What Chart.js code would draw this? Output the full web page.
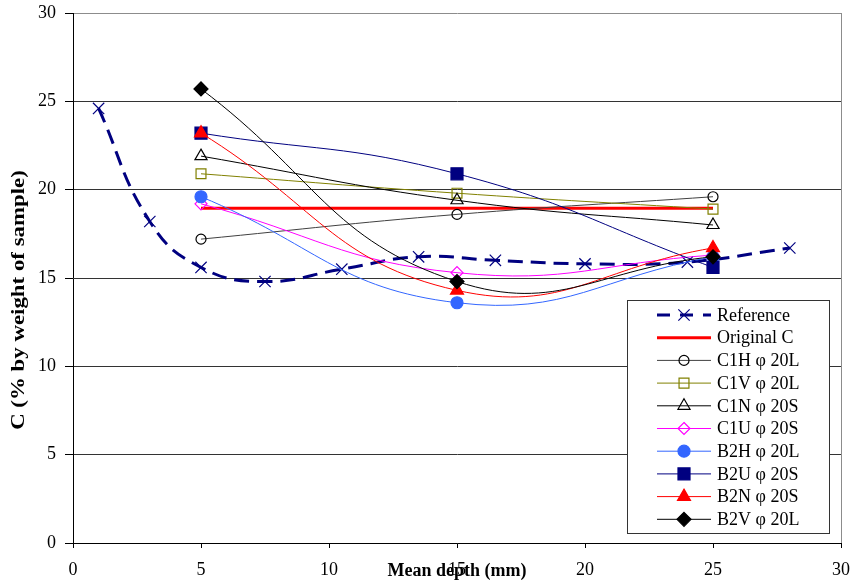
<!DOCTYPE html>
<html>
<head>
<meta charset="utf-8">
<script src="https://cdn.jsdelivr.net/npm/chart.js@4.4.1/dist/chart.umd.min.js"></script>
<style>
  html, body { margin: 0; padding: 0; background: #ffffff; }
  canvas { display: block; }
</style>
</head>
<body>
<canvas id="chart" width="854" height="584"></canvas>
<script>
// Carbon content against mean depth
const refDepth = [1, 3, 5, 7.5, 10.5, 13.5, 16.5, 20, 24, 28];
const refC     = [24.6, 18.2, 15.6, 14.8, 15.5, 16.2, 16.0, 15.8, 15.9, 16.7];

const sampleDepth = [5, 15, 25];
const originalC = [18.95, 18.95, 18.95];
const c1h = [17.2, 18.6, 19.6];
const c1v = [20.9, 19.8, 18.9];
const c1n = [21.9, 19.4, 18.0];
const c1u = [19.2, 15.3, 16.3];
const b2h = [19.6, 13.6, 16.2];
const b2u = [23.2, 20.9, 15.6];
const b2n = [23.2, 14.3, 16.7];
const b2v = [25.7, 14.8, 16.2];

const seriesNames = ['Reference', 'Original C', 'C1H φ 20L', 'C1V φ 20L', 'C1N φ 20S',
                     'C1U φ 20S', 'B2H φ 20L', 'B2U φ 20S', 'B2N φ 20S', 'B2V φ 20L'];

const xTicks = [0, 5, 10, 15, 20, 25, 30];
const yTicks = [0, 5, 10, 15, 20, 25, 30];
const xTitle = 'Mean depth (mm)';
const yTitle = 'C (% by weight of sample)';

const FONT = '"Liberation Serif", "Times New Roman", Times, serif';
Chart.defaults.font.family = FONT;
Chart.defaults.font.size = 18;
Chart.defaults.color = '#000000';

function pts(xs, ys) { return xs.map((x, i) => ({ x: x, y: ys[i] })); }

const NONE = 'rgba(0,0,0,0)';
// line colour, width, dash, marker style, radius, marker fill, marker edge
const styles = [
  { line: '#000080', w: 3, dash: [15, 8], ps: 'crossRot', r: 8,   fill: NONE,      edge: '#000080', t: 0.45 },
  { line: '#ff0000', w: 3, dash: [],      ps: false,      r: 0,   fill: NONE,      edge: '#ff0000', t: 0 },
  { line: '#404040', w: 1, dash: [],      ps: 'circle',   r: 5,   fill: NONE,      edge: '#000000', t: 0.45 },
  { line: '#808000', w: 1, dash: [],      ps: 'rect',     r: 7,   fill: NONE,      edge: '#808000', t: 0.45 },
  { line: '#000000', w: 1, dash: [],      ps: 'triangle', r: 7,   fill: NONE,      edge: '#000000', t: 0.45 },
  { line: '#ff00ff', w: 1, dash: [],      ps: 'rectRot',  r: 6,   fill: NONE,      edge: '#ff00ff', t: 0.45 },
  { line: '#3366ff', w: 1, dash: [],      ps: 'circle',   r: 6,   fill: '#3366ff', edge: '#3366ff', t: 0.45 },
  { line: '#000080', w: 1, dash: [],      ps: 'rect',     r: 8.5, fill: '#000080', edge: '#000080', t: 0.45 },
  { line: '#ff0000', w: 1, dash: [],      ps: 'triangle', r: 7.5, fill: '#ff0000', edge: '#ff0000', t: 0.45 },
  { line: '#000000', w: 1, dash: [],      ps: 'rectRot',  r: 7,   fill: '#000000', edge: '#000000', t: 0.45 }
];

const seriesData = [
  pts(refDepth, refC),
  pts(sampleDepth, originalC),
  pts(sampleDepth, c1h),
  pts(sampleDepth, c1v),
  pts(sampleDepth, c1n),
  pts(sampleDepth, c1u),
  pts(sampleDepth, b2h),
  pts(sampleDepth, b2u),
  pts(sampleDepth, b2n),
  pts(sampleDepth, b2v)
];

const datasets = seriesData.map((d, i) => {
  const s = styles[i];
  return {
    label: seriesNames[i],
    data: d,
    order: seriesData.length - i,
    borderColor: s.line,
    borderWidth: s.w,
    borderDash: s.dash,
    tension: s.t,
    fill: false,
    pointStyle: s.ps,
    pointRadius: s.r,
    pointHoverRadius: s.r,
    pointBackgroundColor: s.fill,
    pointBorderColor: s.edge,
    pointBorderWidth: 1.2
  };
});

// marker geometry following Chart.js point styles
function drawMarker(ctx, s, x, y) {
  if (!s.ps || !s.r) return;
  const r = s.r;
  ctx.save();
  ctx.setLineDash([]);
  ctx.lineWidth = 1.2;
  ctx.strokeStyle = s.edge;
  ctx.fillStyle = s.fill;
  ctx.beginPath();
  if (s.ps === 'circle') {
    ctx.arc(x, y, r, 0, Math.PI * 2);
  } else if (s.ps === 'rect') {
    const h = Math.SQRT1_2 * r;
    ctx.rect(x - h, y - h, 2 * h, 2 * h);
  } else if (s.ps === 'rectRot') {
    ctx.moveTo(x, y - r); ctx.lineTo(x + r, y); ctx.lineTo(x, y + r); ctx.lineTo(x - r, y); ctx.closePath();
  } else if (s.ps === 'triangle') {
    const a = -Math.PI / 2;
    for (let k = 0; k < 3; k++) {
      const ang = a + k * 2 * Math.PI / 3;
      const px = x + Math.cos(ang) * r, py = y + Math.sin(ang) * r;
      if (k === 0) ctx.moveTo(px, py); else ctx.lineTo(px, py);
    }
    ctx.closePath();
  } else if (s.ps === 'crossRot') {
    const d = Math.cos(Math.PI / 4) * r;
    ctx.moveTo(x - d, y - d); ctx.lineTo(x + d, y + d);
    ctx.moveTo(x - d, y + d); ctx.lineTo(x + d, y - d);
    ctx.stroke();
    ctx.restore();
    return;
  }
  ctx.fill();
  ctx.stroke();
  ctx.restore();
}

// boxed key inside the lower right of the plot
const keyBox = {
  id: 'keyBox',
  afterDraw(chart) {
    const ctx = chart.ctx;
    const ca = chart.chartArea;
    const w = 202, h = 233;
    const left = ca.right - 214, top = ca.bottom - 243;
    ctx.save();
    ctx.fillStyle = '#ffffff';
    ctx.fillRect(left, top, w, h);
    ctx.strokeStyle = '#333333';
    ctx.lineWidth = 1;
    ctx.strokeRect(left + 0.5, top + 0.5, w, h);
    const rowH = 22.7;
    seriesNames.forEach((name, i) => {
      const s = styles[i];
      const cy = top + 15 + i * rowH;
      const x0 = left + 30, x1 = left + 84, xm = (x0 + x1) / 2;
      ctx.save();
      ctx.strokeStyle = s.line;
      ctx.lineWidth = s.w;
      ctx.setLineDash(s.dash.length ? [13, 10] : []);
      ctx.beginPath();
      ctx.moveTo(x0, cy); ctx.lineTo(x1, cy);
      ctx.stroke();
      ctx.restore();
      drawMarker(ctx, s, xm, cy);
      ctx.fillStyle = '#000000';
      ctx.font = '18px ' + FONT;
      ctx.textAlign = 'left';
      ctx.textBaseline = 'middle';
      ctx.fillText(name, left + 90, cy + 1);
    });
    ctx.restore();
  }
};

// right frame edge and the vertical axis title
const frame = {
  id: 'frame',
  beforeDatasetsDraw(chart) {
    const ctx = chart.ctx;
    const ca = chart.chartArea;
    ctx.save();
    ctx.strokeStyle = '#8c8c8c';
    ctx.lineWidth = 1;
    ctx.beginPath();
    ctx.moveTo(Math.round(ca.right) + 0.5, ca.top);
    ctx.lineTo(Math.round(ca.right) + 0.5, ca.bottom);
    ctx.stroke();
    ctx.restore();
  },
  afterDraw(chart) {
    const ctx = chart.ctx;
    ctx.save();
    ctx.translate(19, 300);
    ctx.rotate(-Math.PI / 2);
    ctx.scale(1.27, 1);
    ctx.font = 'bold 18px ' + FONT;
    ctx.fillStyle = '#000000';
    ctx.textAlign = 'center';
    ctx.textBaseline = 'middle';
    ctx.fillText(yTitle, 0, 0);
    ctx.restore();
  }
};

new Chart(document.getElementById('chart'), {
  type: 'line',
  data: { datasets: datasets },
  plugins: [frame, keyBox],
  options: {
    responsive: false,
    animation: false,
    devicePixelRatio: 1,
    layout: { padding: { top: 13, right: 13, left: 0, bottom: 0 } },
    plugins: {
      legend: { display: false },
      tooltip: { enabled: false }
    },
    scales: {
      x: {
        type: 'linear',
        min: 0, max: 30,
        afterBuildTicks(scale) { scale.ticks = xTicks.map(v => ({ value: v })); },
        afterFit(scale) { scale.height = 41; scale.paddingLeft = 0; scale.paddingRight = 0; },
        ticks: { padding: 11, font: { size: 18 }, color: '#000000', maxRotation: 0 },
        grid: { drawOnChartArea: false, drawTicks: true, tickLength: 5, tickColor: '#000000' },
        border: { display: true, color: '#000000', width: 1 },
        title: { display: true, text: xTitle, font: { size: 18, weight: 'bold' }, padding: { top: 0, bottom: 2 }, color: '#000000' }
      },
      y: {
        type: 'linear',
        min: 0, max: 30,
        afterBuildTicks(scale) { scale.ticks = yTicks.map(v => ({ value: v })); },
        afterFit(scale) { scale.width = 73; scale.paddingTop = 0; scale.paddingBottom = 0; },
        ticks: { padding: 9, font: { size: 18 }, color: '#000000' },
        grid: {
          drawOnChartArea: true, drawTicks: true, tickLength: 8,
          color: ctx => (ctx.tick && ctx.tick.value === 30) ? '#8c8c8c' : '#333333',
          tickColor: '#000000', lineWidth: 1
        },
        border: { display: true, color: '#000000', width: 1 }
      }
    }
  }
});
</script>
</body>
</html>
